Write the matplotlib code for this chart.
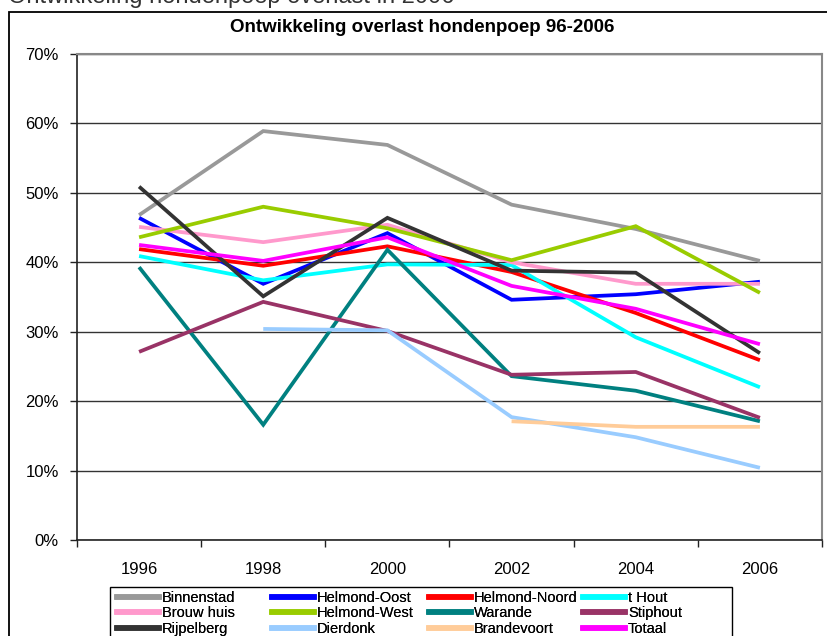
import matplotlib
matplotlib.use("Agg")
import matplotlib.pyplot as plt
from matplotlib.patches import Rectangle
from matplotlib.lines import Line2D
import numpy as np

plt.rcParams['font.family'] = ['Liberation Sans', 'DejaVu Sans']

years = ["1996", "1998", "2000", "2002", "2004", "2006"]

binnenstad   = [46.8, 58.9, 56.9, 48.3, 44.8, 40.2]
helmond_oost = [46.4, 36.9, 44.2, 34.6, 35.4, 37.2]
helmond_noord = [41.9, 39.5, 42.3, 38.6, 32.7, 25.9]
t_hout       = [40.9, 37.4, 39.7, 39.6, 29.2, 22.0]
brouw_huis   = [45.1, 42.9, 45.4, 40.0, 36.9, 36.9]
helmond_west = [43.6, 48.0, 44.9, 40.3, 45.2, 35.6]
warande      = [39.3, 16.6, 41.8, 23.6, 21.5, 17.1]
stiphout     = [27.1, 34.3, 30.1, 23.8, 24.2, 17.6]
rijpelberg   = [50.9, 35.1, 46.4, 38.8, 38.5, 26.9]
dierdonk     = [np.nan, 30.4, 30.2, 17.7, 14.8, 10.4]
brandevoort  = [np.nan, np.nan, np.nan, 17.1, 16.3, 16.3]
totaal       = [42.5, 40.2, 43.6, 36.6, 33.3, 28.2]

names = ["Binnenstad", "Helmond-Oost", "Helmond-Noord", "t Hout",
         "Brouw huis", "Helmond-West", "Warande", "Stiphout",
         "Rijpelberg", "Dierdonk", "Brandevoort", "Totaal"]
series = [binnenstad, helmond_oost, helmond_noord, t_hout, brouw_huis,
          helmond_west, warande, stiphout, rijpelberg, dierdonk,
          brandevoort, totaal]
colors = ["#999999", "#0000FF", "#FF0000", "#00FFFF", "#FF99CC", "#99CC00",
          "#008080", "#993366", "#333333", "#99CCFF", "#FFCC99", "#FF00FF"]

W, H = 828, 636
fig = plt.figure(figsize=(W / 100, H / 100), dpi=100)

def fx(px):
    return px / W

def fy(py):
    return 1 - py / H

# cropped text at the very top (only its lower edge is visible)
fig.text(fx(8), fy(3), "Ontwikkeling hondenpoep overlast in 2006", fontsize=17,
         color="#333333", ha="left", va="baseline")

# outer chart border (cut off on right and bottom)
fig.add_artist(Rectangle((fx(9), -0.1), 1.2, fy(12) + 0.1, transform=fig.transFigure,
                         fill=False, edgecolor="black", linewidth=1.3))

ax = fig.add_axes([fx(77), fy(540), fx(822) - fx(77), fy(54) - fy(540)])
x = np.arange(len(years))
for name, vals, c in zip(names, series, colors):
    ax.plot(x, np.array(vals) / 100, color=c, lw=2.7, label=name,
            solid_capstyle="butt", solid_joinstyle="miter")

ax.set_xlim(-0.5, len(years) - 0.5)
ax.set_ylim(0, 0.70)
ax.set_yticks(np.arange(0, 0.701, 0.10))
ax.set_yticklabels([f"{int(round(v*100))}%" for v in np.arange(0, 0.701, 0.10)])
ax.set_xticks(x)
ax.set_xticklabels(years)
ax.set_xticks(np.arange(-0.5, len(years)), minor=True)
ax.tick_params(axis="x", which="major", length=0, pad=16, labelsize=12)
ax.tick_params(axis="x", which="minor", length=5, width=1, direction="out", color="#222222")
ax.tick_params(axis="y", length=5, width=1, direction="out", labelsize=12, pad=8,
               color="#222222")
ax.yaxis.grid(True, color="#333333", lw=1)
ax.set_axisbelow(True)
for s in ["top", "right"]:
    ax.spines[s].set_color("#888888")
    ax.spines[s].set_linewidth(1.5)
for s in ["left", "bottom"]:
    ax.spines[s].set_color("#222222")
    ax.spines[s].set_linewidth(1.2)

fig.text(fx(422), fy(27), "Ontwikkeling overlast hondenpoep 96-2006",
         fontsize=13.5, fontweight="bold", ha="center", va="center")

# legend: frame + 4 columns
fig.add_artist(Rectangle((fx(110), fy(645)), fx(732) - fx(110), fy(587) - fy(645),
                         transform=fig.transFigure, fill=False,
                         edgecolor="black", linewidth=1.0))
col_x = [113, 268, 425, 579]
handles = [Line2D([], [], color=c, lw=4) for c in colors]
for ci in range(4):
    idx = [ci, ci + 4, ci + 8]
    leg = fig.legend([handles[i] for i in idx], [names[i] for i in idx],
                     loc="upper left", bbox_to_anchor=(fx(col_x[ci]), fy(587)),
                     frameon=False, fontsize=10.5, handlelength=2.9,
                     handletextpad=0.2, labelspacing=0.12, borderpad=0.25,
                     borderaxespad=0)
    fig.add_artist(leg)

fig.savefig("out.png", dpi=100)
